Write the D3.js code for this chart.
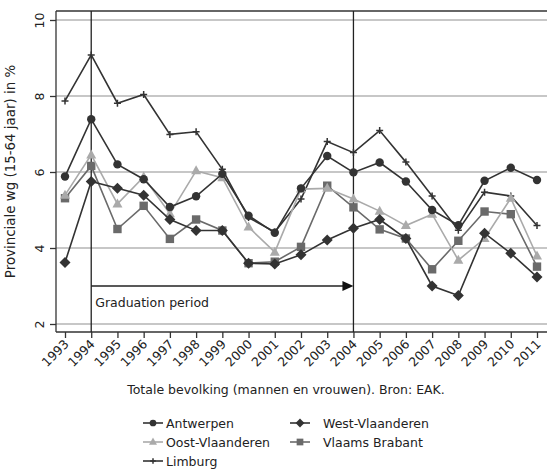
<!DOCTYPE html>
<html><head><meta charset="utf-8">
<script src="https://cdn.jsdelivr.net/npm/d3@7"></script>
<style>body{margin:0;background:#fff}svg{display:block}text{font-family:"DejaVu Sans",sans-serif;fill:#222}</style>
</head><body><svg id="c" width="551" height="469"></svg>
<script>
const years = [1993,1994,1995,1996,1997,1998,1999,2000,2001,2002,2003,2004,2005,2006,2007,2008,2009,2010,2011];
const antwerpen = [5.88,7.39,6.20,5.81,5.08,5.36,5.95,4.85,4.40,5.57,6.42,5.99,6.25,5.75,5.00,4.60,5.77,6.11,5.79];
const westVlaanderen = [3.62,5.75,5.57,5.39,4.75,4.46,4.46,3.60,3.58,3.82,4.21,4.52,4.75,4.25,3.00,2.75,4.39,3.86,3.24];
const oostVlaanderen = [5.39,6.45,5.16,5.87,4.90,6.03,5.85,4.55,3.89,5.55,5.57,5.29,4.97,4.59,4.89,3.68,4.25,5.31,3.79];
const vlaamsBrabant = [5.31,6.16,4.50,5.11,4.24,4.75,4.46,3.60,3.64,4.03,5.64,5.07,4.49,4.25,3.44,4.19,4.96,4.89,3.51];
const limburg = [7.87,9.08,7.81,8.04,6.99,7.06,6.07,4.80,4.42,5.29,6.80,6.51,7.09,6.26,5.37,4.47,5.47,5.37,4.59];
const yTicks = [2,4,6,8,10];
const markerYears = [1994,2004];
const arrowLevel = 3;
const annotation = "Graduation period";
const yTitle = "Provinciale wg (15-64 jaar) in %";
const xTitle = "Totale bevolking (mannen en vrouwen). Bron: EAK.";

const series = [
  {name:"Antwerpen", values:antwerpen, color:"#333", sym:"circle"},
  {name:"West-Vlaanderen", values:westVlaanderen, color:"#333", sym:"diamond"},
  {name:"Oost-Vlaanderen", values:oostVlaanderen, color:"#aaa", sym:"triangle"},
  {name:"Vlaams Brabant", values:vlaamsBrabant, color:"#6a6a6a", sym:"square"},
  {name:"Limburg", values:limburg, color:"#333", sym:"plus"}
];

const svg = d3.select("#c");
const L=56, R=547, T=11, B=332;
const x = d3.scaleLinear().domain([1993,2011]).range([65,537]);
const y = d3.scaleLinear().domain([2,10]).range([324,20]);

svg.append("g").selectAll("line").data(yTicks).join("line")
  .attr("x1",L).attr("x2",R).attr("y1",d=>y(d)).attr("y2",d=>y(d))
  .attr("stroke","#b4b4b4").attr("stroke-width",1.5);

svg.append("line").attr("x1",L).attr("x2",R).attr("y1",T).attr("y2",T).attr("stroke","#333").attr("stroke-width",1.3);

const yAxis = svg.append("g").attr("transform",`translate(${L},0)`)
  .call(d3.axisLeft(y).tickValues(yTicks).tickSize(6).tickFormat(d3.format("d")));
yAxis.select(".domain").attr("d",`M0,${T}V${B}`).attr("stroke","#333").attr("stroke-width",1.3);
yAxis.selectAll(".tick line").attr("stroke","#333").attr("stroke-width",1.3);
yAxis.selectAll(".tick text").attr("transform","rotate(-90)").attr("x",0).attr("y",-12).attr("dy","0")
  .attr("text-anchor","middle").style("font-size","12.5px").style("font-family","DejaVu Sans").attr("fill","#222");

const xAxis = svg.append("g").attr("transform",`translate(0,${B})`)
  .call(d3.axisBottom(x).tickValues(years).tickSize(6).tickFormat(d3.format("d")));
xAxis.select(".domain").attr("d",`M${L},0H${R}`).attr("stroke","#333").attr("stroke-width",1.3);
xAxis.selectAll(".tick line").attr("stroke","#333").attr("stroke-width",1.3);
xAxis.selectAll(".tick text").attr("y",0).attr("dy",0)
  .attr("transform","translate(4,13) rotate(-45)").attr("text-anchor","end")
  .style("font-size","12.5px").style("font-family","DejaVu Sans").attr("fill","#222");

svg.append("g").selectAll("line").data(markerYears).join("line")
  .attr("x1",d=>x(d)).attr("x2",d=>x(d)).attr("y1",T).attr("y2",B)
  .attr("stroke","#222").attr("stroke-width",1.3);

const ay = y(arrowLevel);
svg.append("line").attr("x1",x(markerYears[0])).attr("x2",x(markerYears[1])-10).attr("y1",ay).attr("y2",ay)
  .attr("stroke","#222").attr("stroke-width",1.3);
svg.append("path").attr("d",`M${x(markerYears[1])},${ay}L${x(markerYears[1])-11},${ay-5}L${x(markerYears[1])-11},${ay+5}Z`).attr("fill","#111");
svg.append("text").attr("x",x(markerYears[0])+4).attr("y",ay+21).text(annotation)
  .style("font-size","12.5px");

function drawSym(g, sym, cx, cy, color, scale=1){
  if(sym==="circle") g.append("circle").attr("cx",cx).attr("cy",cy).attr("r",4.2*scale).attr("fill",color);
  else if(sym==="diamond") g.append("path").attr("d",`M${cx},${cy-5.5*scale}L${cx+5.5*scale},${cy}L${cx},${cy+5.5*scale}L${cx-5.5*scale},${cy}Z`).attr("fill",color);
  else if(sym==="square") g.append("rect").attr("x",cx-4.2*scale).attr("y",cy-4.2*scale).attr("width",8.4*scale).attr("height",8.4*scale).attr("fill",color);
  else if(sym==="triangle") g.append("path").attr("d",`M${cx},${cy-5.5*scale}L${cx+5*scale},${cy+3.5*scale}L${cx-5*scale},${cy+3.5*scale}Z`).attr("fill",color);
  else if(sym==="plus") g.append("path").attr("d",`M${cx-3.5*scale},${cy}H${cx+3.5*scale}M${cx},${cy-3.5*scale}V${cy+3.5*scale}`).attr("stroke",color).attr("stroke-width",1.5);
}

const line = d3.line().x((d,i)=>x(years[i])).y(d=>y(d));
const order = [4,3,2,1,0];
order.forEach(k=>{
  const s = series[k];
  const g = svg.append("g");
  g.append("path").datum(s.values).attr("d",line).attr("fill","none").attr("stroke",s.color).attr("stroke-width",1.6);
  s.values.forEach((v,i)=>drawSym(g,s.sym,x(years[i]),y(v),s.color));
});

svg.append("text").attr("transform",`translate(15,${(T+B)/2}) rotate(-90)`).attr("text-anchor","middle")
  .style("font-size","13.4px").text(yTitle);
svg.append("text").attr("x",286).attr("y",394).attr("text-anchor","middle").style("font-size","12.5px").text(xTitle);

const legPos = [[143,423],[290,423],[143,442],[290,442],[143,461]];
const textOff = [23,33,23,33,23];
series.forEach((s,k)=>{
  const [lx,ly] = legPos[k];
  const g = svg.append("g");
  g.append("line").attr("x1",lx).attr("x2",lx+20).attr("y1",ly).attr("y2",ly).attr("stroke",s.color).attr("stroke-width",1.6);
  drawSym(g,s.sym,lx+10,ly,s.color,0.8);
  g.append("text").attr("x",lx+textOff[k]).attr("y",ly+4.5).style("font-size","12.5px").text(s.name);
});
</script></body></html>
